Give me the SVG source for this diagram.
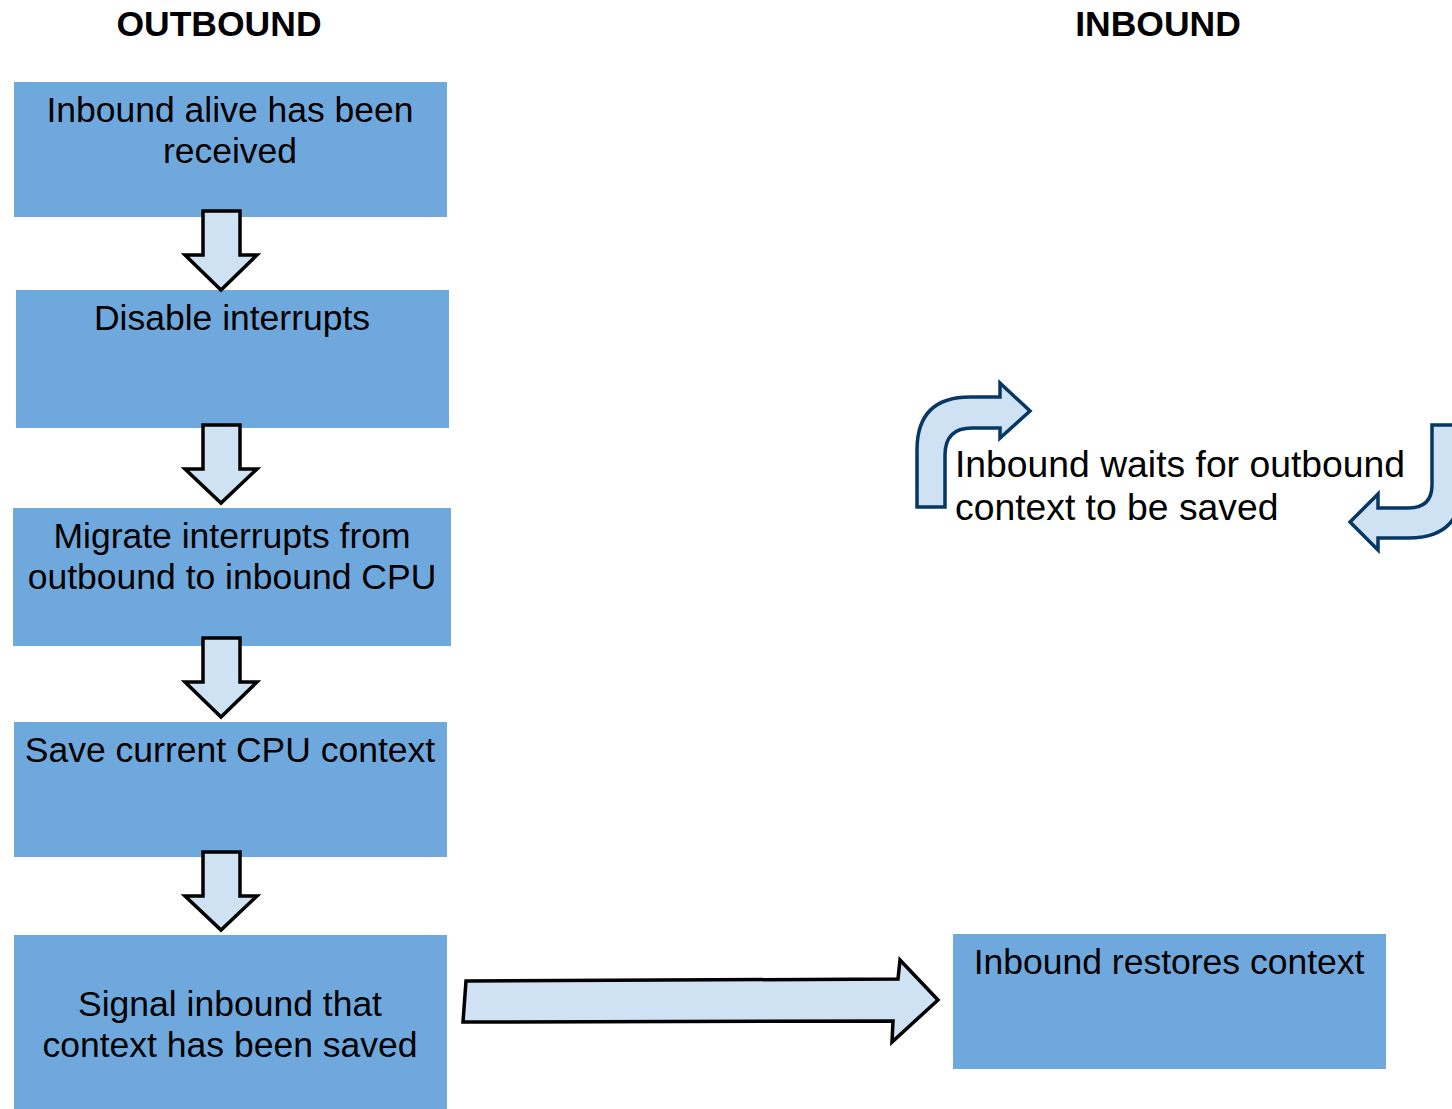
<svg xmlns="http://www.w3.org/2000/svg" width="1452" height="1109" viewBox="0 0 1452 1109">
<style>
.box{fill:#6fa8dc;}
.t{font-family:"Liberation Sans",Arial,sans-serif;font-size:35.5px;fill:#000;text-anchor:middle;}
.ttl{font-family:"Liberation Sans",Arial,sans-serif;font-size:35.5px;font-weight:bold;fill:#000;text-anchor:middle;}
.arr{fill:#cfe2f3;stroke:#000;stroke-width:3.5;stroke-linejoin:miter;}
.bent{fill:#cfe2f3;stroke:#073763;stroke-width:3.5;stroke-linejoin:miter;}
</style>
<rect width="1452" height="1109" fill="#fff"/>
<text class="ttl" x="219" y="36">OUTBOUND</text>
<text class="ttl" x="1158" y="36">INBOUND</text>

<g id="n1"><rect class="box" x="14" y="82" width="433" height="135"/>
<text class="t" x="230" y="122">Inbound alive has been</text>
<text class="t" x="230" y="163">received</text></g>
<g id="n2"><rect class="box" x="16" y="290" width="433" height="138"/>
<text class="t" x="232" y="330">Disable interrupts</text></g>
<g id="n3"><rect class="box" x="13" y="508" width="438" height="138"/>
<text class="t" x="232" y="548">Migrate interrupts from</text>
<text class="t" x="232" y="589">outbound to inbound CPU</text></g>
<g id="n4"><rect class="box" x="14" y="722" width="433" height="135"/>
<text class="t" x="230" y="762">Save current CPU context</text></g>
<g id="n5"><rect class="box" x="14" y="935" width="433" height="174"/>
<text class="t" x="230" y="1016">Signal inbound that</text>
<text class="t" x="230" y="1057">context has been saved</text></g>
<g id="n6"><rect class="box" x="953" y="934" width="433" height="135"/>
<text class="t" x="1169" y="974">Inbound restores context</text></g>
<g id="n7">
<text class="t" x="955" y="477" style="text-anchor:start;font-size:37.3px">Inbound waits for outbound</text>
<text class="t" x="955" y="520" style="text-anchor:start;font-size:37.3px">context to be saved</text></g>

<g id="connectors">
<path class="arr" d="M203,211 L240,211 L240,255 L257,255 L221,290 L185,255 L203,255 Z"/>
<path class="arr" d="M203,425 L240,425 L240,469 L257,469 L221,503 L185,469 L203,469 Z"/>
<path class="arr" d="M203,638 L240,638 L240,682 L257,682 L221,717 L185,682 L203,682 Z"/>
<path class="arr" d="M203,852 L240,852 L240,896 L257,896 L221,930 L185,896 L203,896 Z"/>
<path class="arr" d="M466,981 L898,979 L900,960 L938,1000 L892,1042 L893,1021 L463,1022 Z"/>
<path class="bent" d="M917,507 L917,450 Q917,397 970,397 L1000,397 L1000,383 L1030,411 L1000,438 L1000,428 L972,428 Q945,428 945,455 L945,507 Z"/>
<path class="bent" d="M1432,425 L1432,485 Q1432,508 1408,508 L1378,508 L1378,494 L1350,522 L1378,550 L1378,538 L1408,538 Q1462,538 1462,485 L1462,425 Z"/>
</g>
</svg>
